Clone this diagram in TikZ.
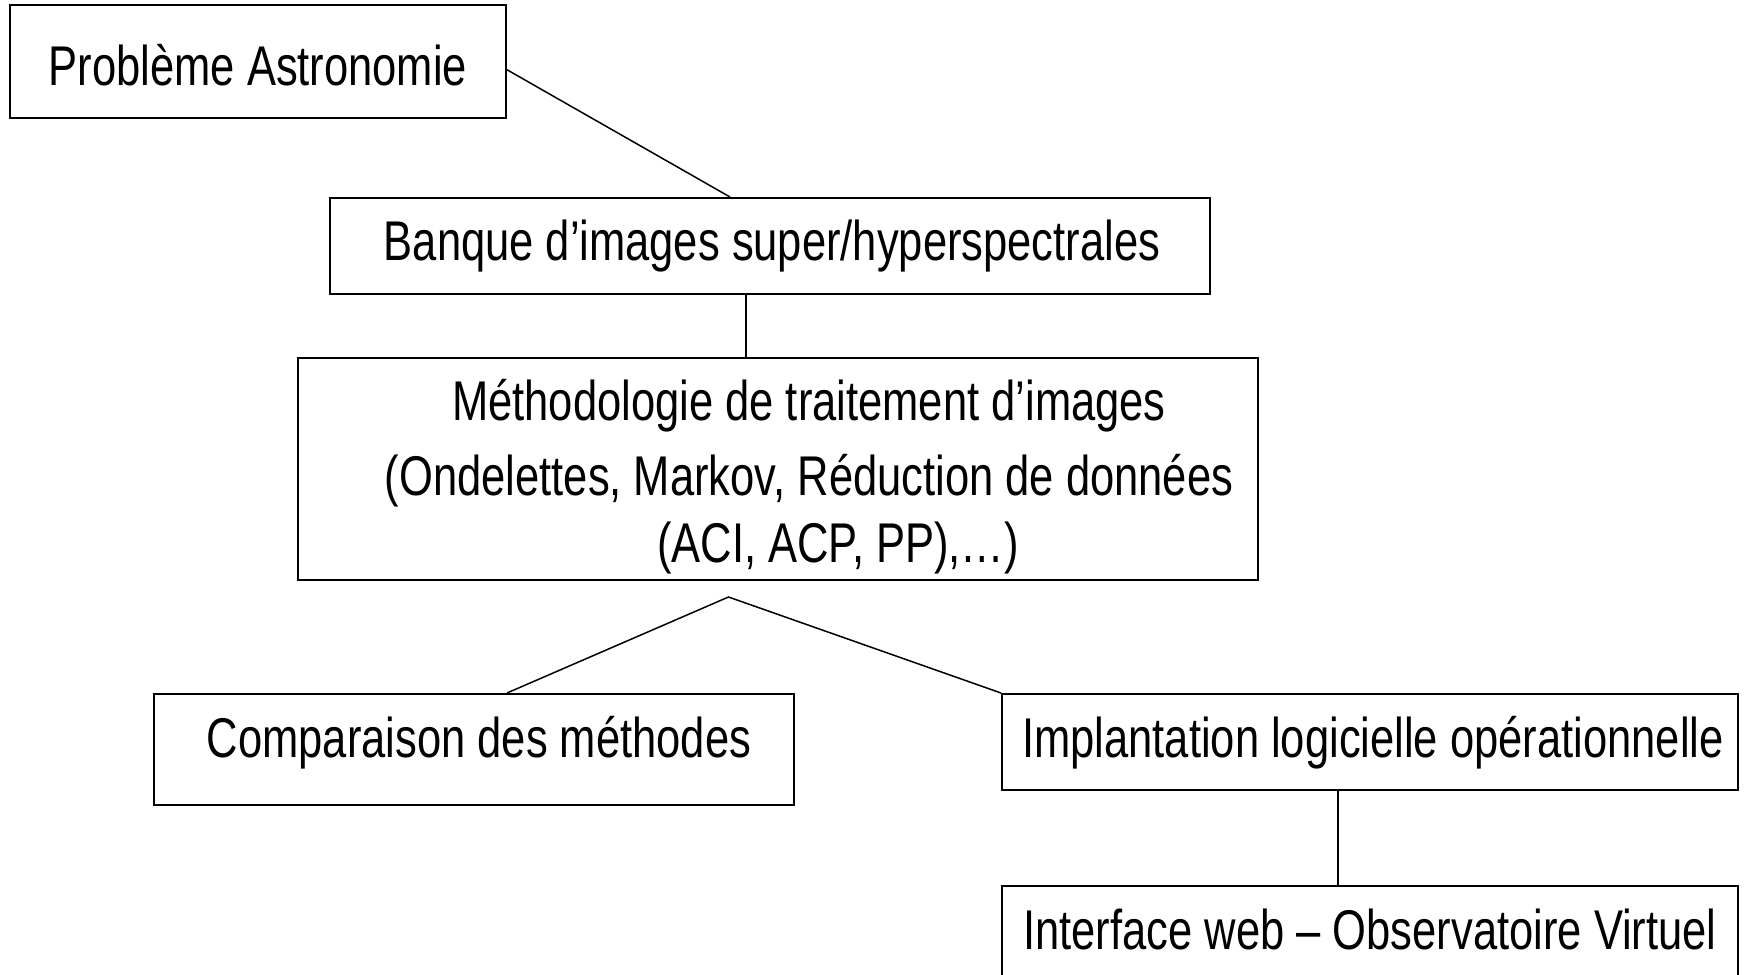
\documentclass[tikz,border=0pt]{standalone}
\usepackage{fontspec}
\setmainfont[FakeStretch=0.777]{Liberation Sans}
\tikzset{
  box/.style={draw=black, line width=1pt, rectangle, inner sep=0pt, anchor=north west, font=\fontsize{28}{33.5}\selectfont},
  link/.style={draw=black, line width=0.75pt}
}
\begin{document}
\begin{tikzpicture}[x=0.5pt, y=-0.5pt]
\useasboundingbox[fill=white] (0,0) rectangle (1744,974);
\begin{scope}
\clip (0,0) rectangle (1744,974);
\node[box, minimum width=248pt, text height=40pt, text depth=16.25pt] (b1) at (9,4.5) {Problème Astronomie};
\node[box, minimum width=440pt, text height=31pt, text depth=17pt] (b2) at (329,197) {\hspace*{2pt}Banque d’images super/hyperspectrales};
\node[box, minimum width=480pt, align=center] (b3) at (297,357) {%
\rule{0pt}{31pt}\hspace*{31pt}Méthodologie de traitement d’images\\[4pt]
\hspace*{31pt}(Ondelettes, Markov, Réduction de données\\
\hspace*{60pt}(ACI, ACP, PP),…)\rule[-9pt]{0pt}{9pt}};
\node[box, minimum width=320pt, text height=31.5pt, text depth=24pt] (b4) at (153,693) {\hspace*{5pt}Comparaison des méthodes};
\node[box, minimum width=368pt, text height=31.5pt, text depth=16.5pt] (b5) at (1001,693) {\hspace*{3pt}Implantation logicielle opérationnelle};
\node[box, minimum width=368pt, text height=31.5pt, text depth=20pt] (b6) at (1001,885) {Interface web – Observatoire Virtuel};
\coordinate (fork) at (728.5,597);
\draw[link] ([yshift=-4pt]b1.east) -- ([xshift=-20pt]b2.north);
\draw[link] ([xshift=-12pt]b2.south) -- ([xshift=-12pt]b2.south |- b3.north);
\draw[link] ([xshift=16.5pt]b4.north) -- (fork) -- (b5.north west);
\draw[link] ([xshift=-16pt]b5.south) -- ([xshift=-16pt]b5.south |- b6.north);
\end{scope}
\end{tikzpicture}
\end{document}
